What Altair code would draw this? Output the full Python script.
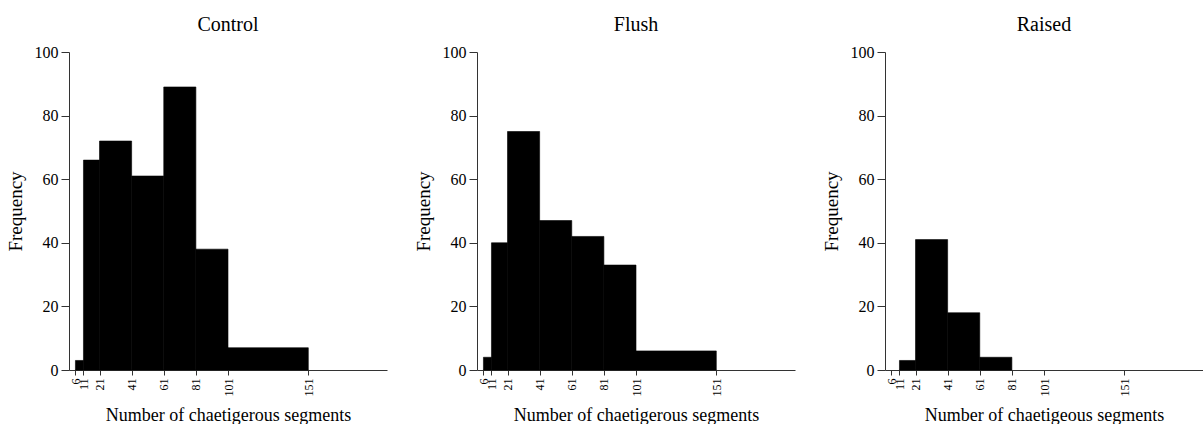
import altair as alt
import pandas as pd

bin_start = [6, 11, 21, 41, 61, 81, 101]
bin_end = [11, 21, 41, 61, 81, 101, 151]
control = [3, 66, 72, 61, 89, 38, 7]
flush = [4, 40, 75, 47, 42, 33, 6]
raised = [0, 3, 41, 18, 4, 0, 0]

x_ticks = [6, 11, 21, 41, 61, 81, 101, 151]
y_ticks = [0, 20, 40, 60, 80, 100]

panels = [
    ("Control", control, "Number of chaetigerous segments"),
    ("Flush", flush, "Number of chaetigerous segments"),
    ("Raised", raised, "Number of chaetigeous segments"),
]

FONT = "Liberation Serif"


def panel(title, counts, xtitle):
    df = pd.DataFrame({"start": bin_start, "end": bin_end, "count": counts})
    df = df[df["count"] > 0]
    return (
        alt.Chart(df)
        .mark_rect(color="black", stroke="black", strokeWidth=0.6)
        .encode(
            x=alt.X(
                "start:Q",
                scale=alt.Scale(domain=[2, 200], nice=False, zero=False),
                axis=alt.Axis(
                    values=x_ticks,
                    title=xtitle,
                    labelAngle=270,
                    labelFontSize=12,
                    labelFont=FONT,
                    labelOverlap=False,
                    labelPadding=3,
                    tickSize=5,
                    titleFont=FONT,
                    titleFontSize=18,
                    titleFontWeight="normal",
                    titlePadding=10,
                    grid=False,
                    domainColor="#333",
                    tickColor="#333",
                    labelColor="black",
                    titleColor="black",
                ),
            ),
            x2="end:Q",
            y=alt.Y(
                "count:Q",
                scale=alt.Scale(domain=[0, 100], nice=False),
                axis=alt.Axis(
                    values=y_ticks,
                    title="Frequency",
                    labelFont=FONT,
                    labelFontSize=16,
                    labelPadding=3,
                    tickSize=8,
                    minExtent=36,
                    maxExtent=36,
                    titleFont=FONT,
                    titleFontSize=19,
                    titleFontWeight="normal",
                    titlePadding=8,
                    grid=False,
                    domainColor="#333",
                    tickColor="#333",
                    labelColor="black",
                    titleColor="black",
                ),
            ),
            y2=alt.datum(0),
        )
        .properties(
            width=318,
            height=318,
            view=alt.ViewBackground(stroke="transparent", strokeWidth=0),
            title=alt.TitleParams(
                text=title,
                font=FONT,
                fontSize=20,
                fontWeight="normal",
                anchor="middle",
                offset=9,
                color="black",
            ),
        )
    )


chart = (
    alt.hconcat(*[panel(t, c, xt) for t, c, xt in panels], spacing=27)
    .properties(
        padding={"left": 6, "top": 15, "right": 0, "bottom": 0},
        background="white",
    )
    .configure_view(strokeWidth=0, stroke="transparent")
)

chart.save("out.html", embed_options={"renderer": "svg", "actions": False})
